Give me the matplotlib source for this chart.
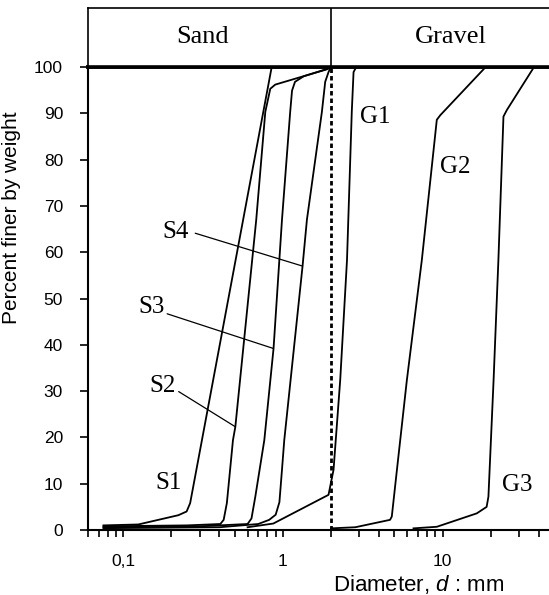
import matplotlib
matplotlib.use('Agg')
import matplotlib.pyplot as plt
from matplotlib.ticker import FixedLocator, FixedFormatter, NullFormatter

plt.rcParams['font.family'] = ['Liberation Sans', 'DejaVu Sans']
plt.rcParams['mathtext.fontset'] = 'custom'
plt.rcParams['mathtext.rm'] = 'Liberation Sans'
plt.rcParams['mathtext.it'] = 'Liberation Sans:italic'

# grain size distributions, diameter (mm) vs percent finer
s1_d = [0.075, 0.124, 0.221, 0.249, 0.262, 0.85]
s1_p = [1.0, 1.2, 3.2, 4.0, 5.8, 100]

s2_d = [0.075, 0.25, 0.405, 0.425, 0.445, 0.486, 0.503, 0.68, 0.775, 0.833, 0.895, 1.284, 1.886, 2.0]
s2_p = [0.8, 1.0, 1.3, 2.2, 5.8, 19.4, 22.3, 67.0, 90.3, 95.3, 96.2, 97.8, 99.5, 100]

s3_d = [0.075, 0.3, 0.6, 0.635, 0.671, 0.764, 0.873, 0.986, 1.11, 1.14, 1.19, 1.35, 1.9, 2.0]
s3_p = [0.6, 0.8, 1.3, 2.5, 7.2, 19.4, 39.2, 67.0, 90.3, 94.9, 96.8, 98.0, 99.6, 100]

s4_d = [0.075, 0.4, 0.7, 0.82, 0.9, 0.95, 0.986, 1.019, 1.327, 1.413, 1.754, 1.84, 1.93, 2.0]
s4_p = [0.4, 0.6, 1.3, 2.2, 3.3, 6.0, 13.0, 19.4, 57.0, 67.0, 90.3, 96.8, 98.9, 100]

g1_d = [0.6, 0.87, 1.93, 2.075, 2.285, 2.52, 2.70, 2.77, 2.88, 3.3]
g1_p = [0.6, 1.4, 7.6, 13.0, 32.4, 58.3, 90.3, 98.9, 100, 100]

g2_d = [2.0, 2.84, 4.69, 4.81, 5.18, 5.98, 7.42, 9.21, 9.69, 18.3, 18.6]
g2_p = [0.36, 0.6, 2.2, 2.9, 13.0, 32.4, 58.3, 88.6, 89.6, 99.7, 100]

g3_d = [6.58, 9.21, 16.4, 18.9, 19.4, 20.9, 22.4, 24.1, 25.3, 37.0, 37.2]
g3_p = [0.36, 0.7, 3.6, 5.0, 7.2, 32.4, 58.3, 89.3, 90.7, 99.7, 100]

sand_gravel_limit = 2.0

x_ticks = [0.1, 1, 10]
x_tick_labels = ['0,1', '1', '10']
y_ticks = list(range(0, 101, 10))

fig = plt.figure(figsize=(5.49, 5.95), dpi=100)
ax = fig.add_axes([0.1603, 0.1092, 0.8397, 0.7782])
band = fig.add_axes([0.1603, 0.8874, 0.8397, 0.0992])

for d, p in [(s1_d, s1_p), (s2_d, s2_p), (s3_d, s3_p), (s4_d, s4_p),
             (g1_d, g1_p), (g2_d, g2_p), (g3_d, g3_p)]:
    ax.plot(d, p, color='black', lw=1.3, solid_joinstyle='round')

ax.axvline(sand_gravel_limit, color='black', lw=2.0, linestyle=(0, (1.6, 1.1)))

ax.set_xscale('log')
ax.set_xlim(0.06, 46.5)
ax.set_ylim(0, 100)

ax.xaxis.set_major_locator(FixedLocator(x_ticks))
ax.xaxis.set_major_formatter(FixedFormatter(x_tick_labels))
ax.xaxis.set_minor_formatter(NullFormatter())
ax.set_yticks(y_ticks)
ax.tick_params(axis='both', which='both', direction='out', width=1.2, labelsize=12.5, pad=12)
ax.tick_params(axis='x', which='both', length=5)
ax.tick_params(axis='y', length=6)

ax.spines['right'].set_visible(False)
ax.spines['top'].set_linewidth(2.6)
ax.spines['left'].set_linewidth(1.5)
ax.spines['bottom'].set_linewidth(1.5)

ax.set_ylabel('Percent finer by weight', fontsize=15)
ax.yaxis.set_label_coords(-0.145, 0.675)
ax.set_xlabel(r'Diameter, $\it{d}$ : mm', fontsize=16)
ax.xaxis.set_label_coords(0.716, -0.093)

serif = ['Liberation Serif', 'DejaVu Serif']
labels = {'S1': (0.191, 10.2), 'S2': (0.175, 31.0), 'S3': (0.151, 48.2), 'S4': (0.212, 64.4),
          'G1': (3.78, 89.2), 'G2': (12.0, 78.4), 'G3': (29.3, 9.7)}
for name, (lx, ly) in labels.items():
    ax.text(lx, ly, name, family=serif, fontsize=18, ha='center', va='center')

leaders = [((0.222, 29.9), (0.503, 22.3)),
           ((0.188, 46.7), (0.873, 39.2)),
           ((0.282, 64.1), (1.327, 57.0))]
for start, end in leaders:
    ax.annotate('', xy=end, xytext=start,
                arrowprops=dict(arrowstyle='-', lw=0.9, color='black', shrinkA=0, shrinkB=0))

# sand / gravel band on top
band.set_xscale('log')
band.set_xlim(0.06, 46.5)
band.set_ylim(0, 1)
band.set_xticks([])
band.set_yticks([])
band.minorticks_off()
band.tick_params(which='both', length=0, labelbottom=False, labelleft=False)
band.spines['right'].set_visible(False)
for s in ['top', 'left']:
    band.spines[s].set_linewidth(1.2)
band.spines['bottom'].set_linewidth(2.6)
band.axvline(sand_gravel_limit, color='black', lw=1.2)
band.text(0.248, 0.5, 'Sand', transform=band.transAxes, family=serif, fontsize=19,
          ha='center', va='center')
band.text(0.786, 0.5, 'Gravel', transform=band.transAxes, family=serif, fontsize=19,
          ha='center', va='center')

fig.savefig('out.png', dpi=100)
